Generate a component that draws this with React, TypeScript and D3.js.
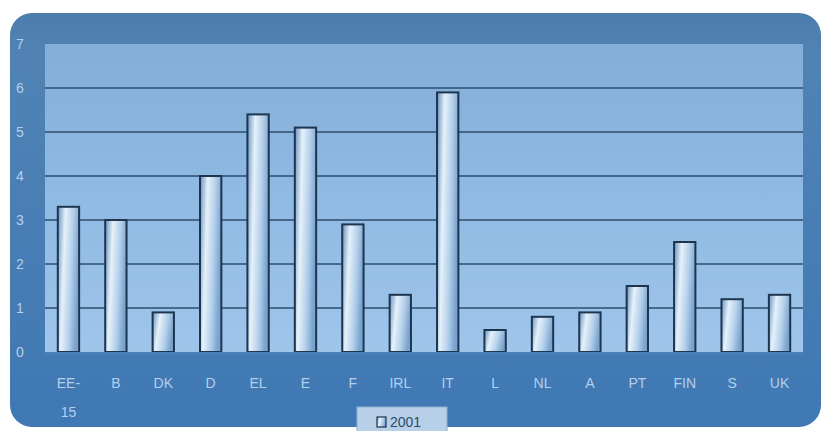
import React from "react";
import * as d3 from "d3";

const categories = ["EE-15", "B", "DK", "D", "EL", "E", "F", "IRL", "IT", "L", "NL", "A", "PT", "FIN", "S", "UK"];
const values2001 = [3.3, 3.0, 0.9, 4.0, 5.4, 5.1, 2.9, 1.3, 5.9, 0.5, 0.8, 0.9, 1.5, 2.5, 1.2, 1.3];
const yTicks = [0, 1, 2, 3, 4, 5, 6, 7];
const seriesName = "2001";

const W = 823;
const H = 431;
const plot = { left: 45, right: 803, top: 44, bottom: 352 };

export default function App() {
  const x = d3.scaleBand<string>().domain(categories).range([plot.left, plot.right]).paddingInner(0.55).paddingOuter(0.27);
  const y = d3.scaleLinear().domain([0, 7]).range([plot.bottom, plot.top]);
  const font = "Arial, 'Liberation Sans', sans-serif";
  return (
    <svg width={W} height={H} style={{ position: "absolute", left: 0, top: 0, background: "#fff" }}>
      <defs>
        <linearGradient id="panelG" x1="0" y1="0" x2="0" y2="1">
          <stop offset="0" stopColor="#4c7cab" />
          <stop offset="0.1" stopColor="#5183b4" />
          <stop offset="1" stopColor="#3f78b4" />
        </linearGradient>
        <linearGradient id="plotG" x1="0" y1="0" x2="0" y2="1">
          <stop offset="0" stopColor="#84aed8" />
          <stop offset="0.5" stopColor="#8fbae3" />
          <stop offset="1" stopColor="#9fc5eb" />
        </linearGradient>
        <linearGradient id="barG" x1="0" y1="0" x2="1" y2="0.25">
          <stop offset="0" stopColor="#6592c0" />
          <stop offset="0.35" stopColor="#e6f1fa" />
          <stop offset="0.7" stopColor="#b3cfea" />
          <stop offset="1" stopColor="#7aa4d0" />
        </linearGradient>
      </defs>
      <rect x={10} y={13} width={811} height={414} rx={22} fill="url(#panelG)" />
      <rect x={plot.left} y={plot.top} width={plot.right - plot.left} height={plot.bottom - plot.top} fill="url(#plotG)" />
      {yTicks.filter((t) => t > 0 && t < 7).map((t) => (
        <line key={t} x1={plot.left} x2={plot.right} y1={y(t)} y2={y(t)} stroke="#2c4c6e" strokeWidth={1.5} />
      ))}
      {yTicks.map((t) => (
        <text key={t} x={20} y={y(t)} dy="0.35em" textAnchor="middle" fontFamily={font} fontSize={14} fill="#b4d0ec">
          {t}
        </text>
      ))}
      {categories.map((c, i) => (
        <rect
          key={c}
          x={x(c)}
          y={y(values2001[i])}
          width={x.bandwidth()}
          height={plot.bottom - y(values2001[i])}
          fill="url(#barG)"
          stroke="#1e3550"
          strokeWidth={2}
        />
      ))}
      <rect x={plot.left} y={plot.bottom} width={plot.right - plot.left} height={3} fill="#4a80b8" />
      {categories.map((c) => {
        const cx = (x(c) as number) + x.bandwidth() / 2;
        const parts = c === "EE-15" ? ["EE-", "15"] : [c];
        return parts.map((p, j) => (
          <text key={c + j} x={cx} y={383 + j * 29} dy="0.35em" textAnchor="middle" fontFamily={font} fontSize={14} fill="#b4d0ec">
            {p}
          </text>
        ));
      })}
      <rect x={357} y={407} width={90} height={26} fill="#b7d0e8" stroke="#8fb0d0" />
      <rect x={377} y={417} width={9} height={10} fill="url(#barG)" stroke="#1e3550" strokeWidth={1.2} />
      <text x={390} y={422} dy="0.35em" fontFamily={font} fontSize={14} fill="#2c4a6a">
        {seriesName}
      </text>
    </svg>
  );
}
